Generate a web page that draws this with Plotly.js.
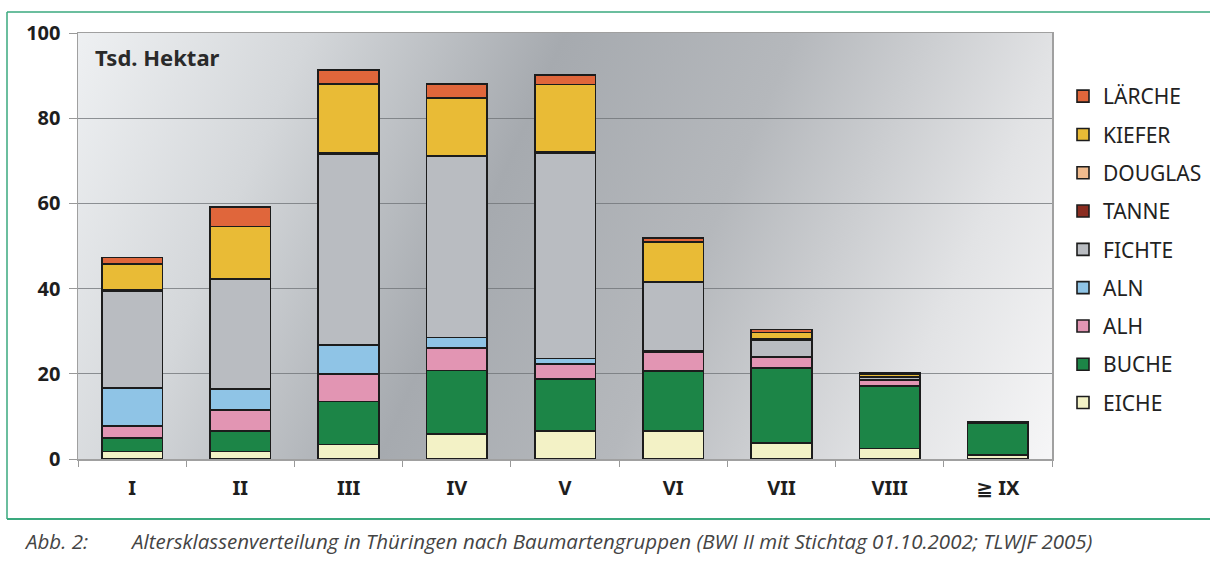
<!DOCTYPE html>
<html>
<head>
<meta charset="utf-8">
<script src="https://cdn.plot.ly/plotly-3.0.1.min.js"></script>
<style>html,body{margin:0;padding:0;background:#fff;}#chart{width:1210px;height:572px;}</style>
</head>
<body>
<div id="chart"></div>
<script>
// Age classes (Altersklassen)
const categories = ["I", "II", "III", "IV", "V", "VI", "VII", "VIII", "≧ IX"];

// Series values in thousand hectares (Tsd. Hektar), stacked bottom -> top
const eiche   = [1.8, 1.8, 3.4, 5.8, 6.6, 6.6, 3.8, 2.5, 0.9];
const buche   = [3.2, 4.8, 10.1, 15.0, 12.2, 14.1, 17.5, 14.7, 7.6];
const alh     = [2.8, 4.9, 6.5, 5.2, 3.5, 4.3, 2.6, 1.2, 0.05];
const aln     = [8.9, 4.9, 6.8, 2.5, 1.3, 0.3, 0.1, 0.1, 0.0];
const fichte  = [22.8, 25.7, 44.7, 42.5, 48.1, 16.1, 4.0, 0.8, 0.1];
const tanne   = [0.2, 0.3, 0.3, 0.2, 0.4, 0.1, 0.1, 0.1, 0.0];
const douglas = [0.0, 0.0, 0.0, 0.0, 0.0, 0.1, 0.0, 0.0, 0.0];
const kiefer  = [6.1, 12.2, 16.2, 13.5, 15.8, 9.4, 1.6, 0.5, 0.0];
const laerche = [1.5, 4.6, 3.3, 3.3, 2.2, 0.9, 0.7, 0.4, 0.1];

const seriesNames  = ["EICHE", "BUCHE", "ALH", "ALN", "FICHTE", "TANNE", "DOUGLAS", "KIEFER", "LÄRCHE"];
const seriesValues = [eiche, buche, alh, aln, fichte, tanne, douglas, kiefer, laerche];
const seriesColors = ["#f3f2c6", "#1c8547", "#e295b3", "#8fc4e6", "#b9bcc1", "#8a2c20", "#f0bb8e", "#e9bb36", "#e0663b"];

const yTickVals = [0, 20, 40, 60, 80, 100];
const unitLabel = "Tsd. Hektar";
const captionNo = "Abb. 2:";
const captionText = "Altersklassenverteilung in Thüringen nach Baumartengruppen (BWI II mit Stichtag 01.10.2002; TLWJF 2005)";

// plot-area geometry in pixels (layout only)
const W = 1210, H = 572;
const PL = 78, PR = 1052, PT = 33, PB = 459;
const px = x => (x - PL) / (PR - PL);
const py = y => (PB - y) / (PB - PT);

// background gradient for the plot area
function makeBg() {
  const c = document.createElement("canvas");
  c.width = PR - PL; c.height = PB - PT;
  const g = c.getContext("2d");
  const lg = g.createLinearGradient(0, 0, c.width, c.height);
  lg.addColorStop(0.0, "#eef0f2");
  lg.addColorStop(0.2, "#d4d7da");
  lg.addColorStop(0.42, "#a6aaaf");
  lg.addColorStop(0.62, "#b5b8bc");
  lg.addColorStop(0.85, "#e2e3e5");
  lg.addColorStop(1.0, "#f6f6f7");
  g.fillStyle = lg;
  g.fillRect(0, 0, c.width, c.height);
  return c.toDataURL("image/png");
}

const FONT = "Noto Sans, Open Sans, DejaVu Sans, sans-serif";

const traces = seriesNames.map((name, i) => ({
  type: "bar",
  name: name,
  x: categories,
  y: seriesValues[i],
  legendgroup: name,
  legendrank: 1000 - i,
  marker: { color: seriesColors[i], line: { color: "#1c1c1c", width: 1.6 } },
  hoverinfo: "x+y+name"
}));

const green = "#3aa97e";
const layout = {
  width: W, height: H,
  margin: { l: PL, r: W - PR, t: PT, b: H - PB, pad: 0, autoexpand: false },
  paper_bgcolor: "#ffffff",
  plot_bgcolor: "rgba(0,0,0,0)",
  barmode: "stack",
  bargap: 0.44,
  showlegend: true,
  legend: {
    x: px(1063), y: py(76), xanchor: "left", yanchor: "top",
    traceorder: "grouped",
    tracegroupgap: 8,
    font: { family: FONT, size: 21, color: "#222" },
    bgcolor: "rgba(255,255,255,0)",
    itemwidth: 30
  },
  xaxis: {
    type: "category",
    tickson: "boundaries",
    ticks: "outside", ticklen: 6, tickcolor: "#999",
    showline: true, linecolor: "#a0a0a0", linewidth: 1.5, mirror: true,
    showgrid: false,
    tickfont: { family: FONT, size: 20, color: "#1e1e1e", weight: "bold" },
    ticklabelstandoff: 10,
    fixedrange: true
  },
  yaxis: {
    range: [0, 100],
    tickvals: yTickVals,
    ticks: "outside", ticklen: 8, tickcolor: "#999",
    showline: true, linecolor: "#a0a0a0", linewidth: 1.5, mirror: true,
    showgrid: true, gridcolor: "rgba(110,114,118,0.75)", gridwidth: 1,
    zeroline: false,
    tickfont: { family: FONT, size: 20, color: "#1e1e1e", weight: "bold" },
    ticklabelstandoff: 4,
    fixedrange: true
  },
  images: [{
    source: makeBg(), xref: "paper", yref: "paper",
    x: 0, y: 1, sizex: 1, sizey: 1, sizing: "stretch",
    xanchor: "left", yanchor: "top", layer: "below"
  }],
  annotations: [
    { text: unitLabel, xref: "paper", yref: "paper", x: px(93), y: py(57),
      xanchor: "left", yanchor: "middle", showarrow: false,
      font: { family: FONT, size: 22, color: "#2a2a2a", weight: "bold" } },
    { text: captionNo, xref: "paper", yref: "paper", x: px(22), y: py(541),
      xanchor: "left", yanchor: "middle", showarrow: false,
      font: { family: "Open Sans, sans-serif", size: 20.5, color: "#444", style: "italic" } },
    { text: captionText, xref: "paper", yref: "paper", x: px(128), y: py(541),
      xanchor: "left", yanchor: "middle", showarrow: false,
      font: { family: "Open Sans, sans-serif", size: 20.5, color: "#444", style: "italic" } }
  ],
  shapes: [
    { type: "line", xref: "paper", yref: "paper", x0: px(7), x1: px(1210), y0: py(12), y1: py(12), line: { color: green, width: 1.5 } },
    { type: "line", xref: "paper", yref: "paper", x0: px(7), x1: px(7), y0: py(12), y1: py(519), line: { color: green, width: 1.5 } },
    { type: "line", xref: "paper", yref: "paper", x0: px(7), x1: px(1210), y0: py(519), y1: py(519), line: { color: green, width: 2 } }
  ]
};

Plotly.newPlot("chart", traces, layout, { displayModeBar: false, staticPlot: true });
</script>
</body>
</html>
